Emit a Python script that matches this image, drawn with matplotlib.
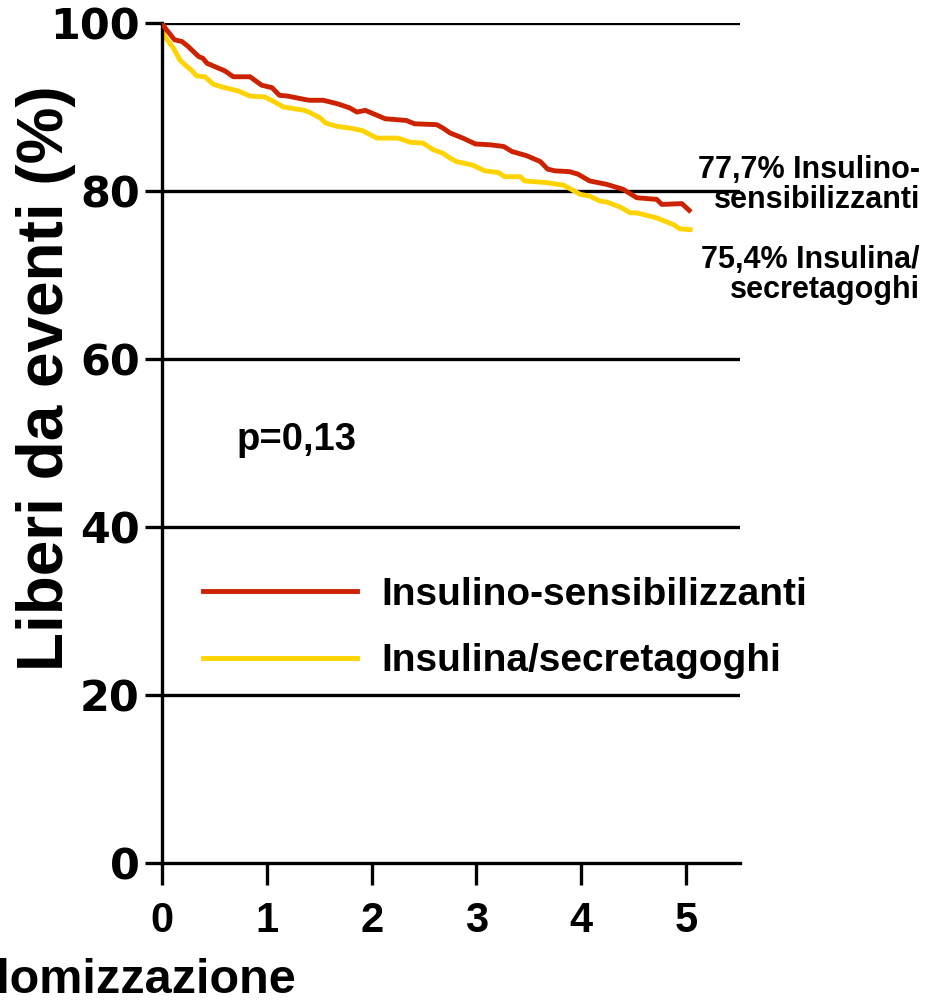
import matplotlib
matplotlib.use("Agg")
import matplotlib.pyplot as plt
from matplotlib.font_manager import FontProperties

# Kaplan-Meier style event-free survival curves (years, % event-free)
sens_years = [0.00, 0.03, 0.12, 0.19, 0.25, 0.35, 0.39, 0.43, 0.60, 0.68, 0.84, 0.95,
              1.05, 1.12, 1.20, 1.36, 1.41, 1.54, 1.67, 1.79, 1.86, 1.94, 2.13, 2.33,
              2.41, 2.62, 2.68, 2.75, 2.87, 2.99, 3.13, 3.26, 3.34, 3.48, 3.61, 3.68,
              3.75, 3.89, 3.97, 4.08, 4.24, 4.40, 4.53, 4.72, 4.77, 4.96, 5.03]
sens_free = [100.0, 99.4, 98.0, 97.8, 97.2, 96.0, 95.8, 95.2, 94.3, 93.6, 93.6, 92.6,
             92.3, 91.4, 91.3, 90.9, 90.8, 90.8, 90.4, 89.9, 89.4, 89.6, 88.6, 88.4,
             88.0, 87.9, 87.5, 86.9, 86.3, 85.6, 85.5, 85.3, 84.7, 84.2, 83.5, 82.6,
             82.4, 82.3, 82.0, 81.2, 80.8, 80.2, 79.2, 79.0, 78.4, 78.5, 77.7]

prov_years = [0.00, 0.02, 0.11, 0.17, 0.24, 0.28, 0.33, 0.41, 0.49, 0.57, 0.73, 0.84,
              0.98, 1.06, 1.16, 1.36, 1.40, 1.51, 1.56, 1.67, 1.79, 1.91, 2.05, 2.25,
              2.37, 2.49, 2.59, 2.68, 2.75, 2.81, 2.96, 3.08, 3.21, 3.27, 3.42, 3.46,
              3.67, 3.77, 3.83, 3.92, 3.99, 4.08, 4.18, 4.24, 4.37, 4.47, 4.53, 4.72,
              4.88, 4.94, 5.04]
prov_free = [100.0, 98.5, 97.0, 95.6, 94.8, 94.4, 93.7, 93.6, 92.7, 92.4, 91.9, 91.3,
             91.2, 90.7, 90.0, 89.6, 89.4, 88.7, 88.1, 87.7, 87.5, 87.2, 86.3, 86.3,
             85.8, 85.7, 84.9, 84.5, 83.9, 83.5, 83.1, 82.4, 82.2, 81.7, 81.7, 81.2,
             81.0, 80.8, 80.7, 80.1, 79.6, 79.4, 78.8, 78.7, 78.1, 77.4, 77.4, 76.8,
             76.0, 75.5, 75.4]

series_labels = ["Insulino-sensibilizzanti", "Insulina/secretagoghi"]
final_notes = ["77,7% Insulino-\nsensibilizzanti", "75,4% Insulina/\nsecretagoghi"]
x_ticks = [0, 1, 2, 3, 4, 5]
y_ticks = [0, 20, 40, 60, 80, 100]
p_text = "p=0,13"

RED = "#CC2200"
YELLOW = "#FFD300"
W, H = 941, 1001

fig = plt.figure(figsize=(W / 100, H / 100), dpi=100)
ax = fig.add_axes([162 / W, 1 - 863 / H, (740 - 162) / W, (863 - 23) / H])

ax.set_xlim(0, 5.515)
ax.set_ylim(0, 100)

# horizontal reference lines
for yv in y_ticks[1:]:
    ax.axhline(yv, color="black", lw=2.4, zorder=1)

l1, = ax.plot(sens_years, sens_free, color=RED, lw=3.5, zorder=3,
              solid_joinstyle="round")
l2, = ax.plot(prov_years, prov_free, color=YELLOW, lw=3.5, zorder=2,
              solid_joinstyle="round")

for side in ("top", "right"):
    ax.spines[side].set_visible(False)
for side in ("left", "bottom"):
    ax.spines[side].set_linewidth(2.4)

ax.set_xticks(x_ticks)
ax.set_yticks(y_ticks)
ax.tick_params(axis="y", direction="out", length=12, width=2.4, pad=4)
ax.tick_params(axis="x", direction="out", length=16, width=2.4, pad=11)

tick_font_x = FontProperties(family="Liberation Sans", weight="bold", size=30)
tick_font_y = FontProperties(family="DejaVu Sans", weight="bold", size=31)
ax.set_xticklabels([str(v) for v in x_ticks], fontproperties=tick_font_x)
ax.set_yticklabels([str(v) for v in y_ticks], fontproperties=tick_font_y)

# axis titles
fig.text(46 / W, 1 - 378 / H, "Liberi da eventi (%)", rotation=90,
         ha="center", va="center", family="Liberation Sans", weight="bold",
         fontsize=46)
fig.text(296 / W, 1 - 993 / H, "Anni dalla randomizzazione", ha="right",
         va="baseline", family="Liberation Sans", weight="bold", fontsize=35)

# p-value
fig.text(237 / W, 1 - 440 / H, p_text, ha="left", va="center",
         family="Liberation Sans", weight="bold", fontsize=27.5)

# end-of-follow-up percentages
fig.text(920 / W, 1 - 185 / H, final_notes[0], ha="right", va="center",
         multialignment="right", family="Liberation Sans", weight="bold",
         fontsize=22, linespacing=1.0)
fig.text(920 / W, 1 - 275 / H, final_notes[1], ha="right", va="center",
         multialignment="right", family="Liberation Sans", weight="bold",
         fontsize=22, linespacing=1.0)

leg_font = FontProperties(family="Liberation Sans", weight="bold", size=28)
ax.legend([l1, l2], series_labels, prop=leg_font, frameon=False,
          loc="center left", bbox_to_anchor=(203 / W, 1 - 628 / H),
          bbox_transform=fig.transFigure, borderpad=0, borderaxespad=0,
          handlelength=3.96, handletextpad=0.62, labelspacing=0.79)

fig.savefig("out.png", dpi=100)
